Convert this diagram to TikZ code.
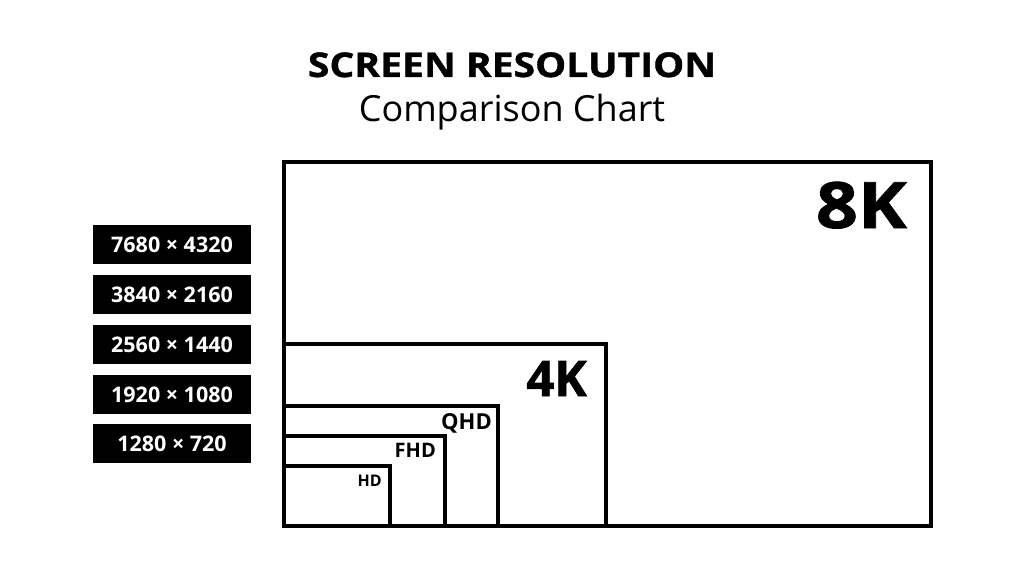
\documentclass[tikz,border=0pt]{standalone}
\usepackage{fontspec}
\setmainfont{Open Sans}
\newfontfamily\heavy{Open Sans}[BoldFeatures={FakeBold=1.2,FakeStretch=1.15}]
\newfontfamily\thick{Open Sans}[BoldFeatures={FakeBold=1.2}]
\begin{document}
\begin{tikzpicture}[
    x=1pt, y=-1pt,
    screen/.style={draw=black,line width=3.2pt},
    reslabel/.style={fill=black,text=white,font=\fontsize{21.5}{21.5}\selectfont\bfseries,minimum width=158pt,minimum height=39pt,inner sep=0pt},
    tag/.style={anchor=base east,inner sep=0pt,font=\bfseries}
]
\useasboundingbox (0,0) rectangle (1024,586);

% titles
\node[anchor=base,inner sep=0pt,font=\fontsize{34}{34}\selectfont\heavy\bfseries] (title) at (512,77) {SCREEN RESOLUTION};
\node[anchor=base,inner sep=0pt,font=\fontsize{36}{36}\selectfont] (subtitle) at (512,121) {Comparison Chart};

% resolution boxes
\node[reslabel] (r8k)  at (172,244.5) {7680 × 4320};
\node[reslabel] (r4k)  at (172,294.5) {3840 × 2160};
\node[reslabel] (rqhd) at (172,344.5) {2560 × 1440};
\node[reslabel] (rfhd) at (172,394.5) {1920 × 1080};
\node[reslabel] (rhd)  at (172,443.5) {1280 × 720};

% nested screens
\draw[screen] (284,526) rectangle (931,162);
\draw[screen] (284,526) rectangle (606,344);
\draw[screen] (284,526) rectangle (498,406);
\draw[screen] (284,526) rectangle (445,436);
\draw[screen] (284,526) rectangle (390,466);

\node[tag,font=\fontsize{64}{64}\selectfont\heavy\bfseries] (k8)  at (907,228) {8K};
\node[tag,font=\fontsize{49}{49}\selectfont\thick\bfseries] (k4)  at (587,396) {4K};
\node[tag,font=\fontsize{22}{22}\selectfont\bfseries] (qhd) at (492,429) {QHD};
\node[tag,font=\fontsize{20}{20}\selectfont\bfseries] (fhd) at (436,457) {FHD};
\node[tag,font=\fontsize{16}{16}\selectfont\bfseries] (hd)  at (382,486) {HD};
\end{tikzpicture}
\end{document}
